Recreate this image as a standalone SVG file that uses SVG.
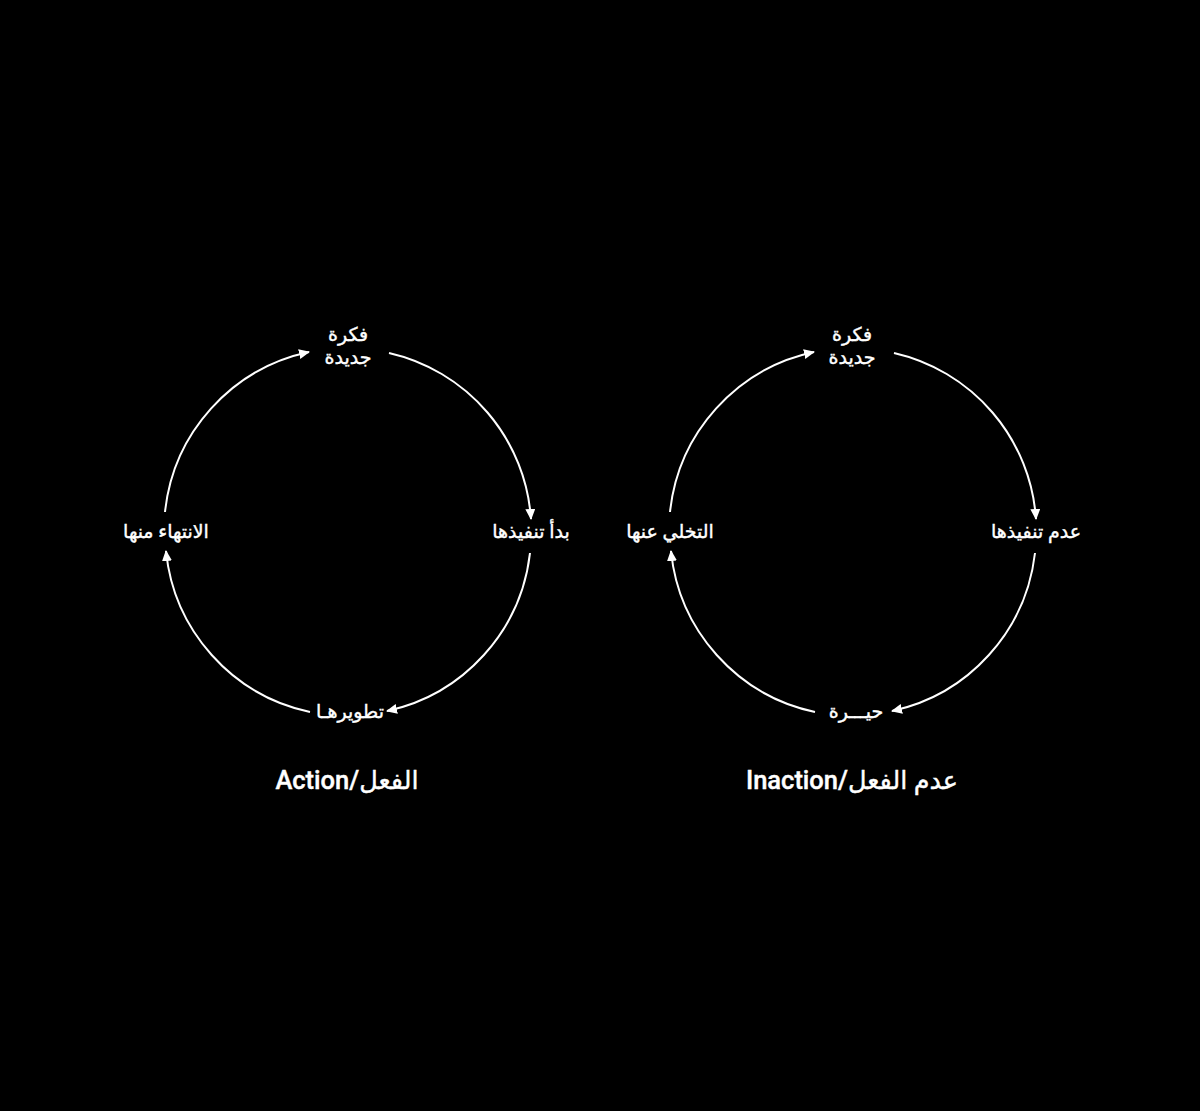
<svg xmlns="http://www.w3.org/2000/svg" width="1200" height="1111" viewBox="0 0 1200 1111">
<style>
.lbl{font-family:Roboto,"DejaVu Sans","Noto Sans",sans-serif;font-size:19px;font-weight:400;fill:#fff;stroke:#fff;stroke-width:0.4;text-anchor:middle}
.ttl{font-family:Roboto,"DejaVu Sans","Noto Sans",sans-serif;font-size:25.5px;font-weight:500;fill:#fff;stroke:#fff;stroke-width:0.4;text-anchor:middle}
.arc{fill:none;stroke:#fff;stroke-width:2}
</style>
<defs>
<marker id="ah" markerUnits="userSpaceOnUse" markerWidth="11" markerHeight="10" refX="10" refY="5" orient="auto">
<path d="M0,0 L11,5 L0,10 z" fill="#fff"/>
</marker>
</defs>
<rect width="1200" height="1111" fill="#000"/>
<g id="connectors">
<g id="left-arcs">
<path class="arc" marker-end="url(#ah)" d="M 389 353 A 183 183 0 0 1 531 519"/>
<path class="arc" marker-end="url(#ah)" d="M 530 553 A 183 183 0 0 1 387 711"/>
<path class="arc" marker-end="url(#ah)" d="M 310 712 A 183 183 0 0 1 166 551"/>
<path class="arc" marker-end="url(#ah)" d="M 165 512 A 183 183 0 0 1 309 352"/>
</g>
<g id="right-arcs" transform="translate(505,0)">
<path class="arc" marker-end="url(#ah)" d="M 389 353 A 183 183 0 0 1 531 519"/>
<path class="arc" marker-end="url(#ah)" d="M 530 553 A 183 183 0 0 1 387 711"/>
<path class="arc" marker-end="url(#ah)" d="M 310 712 A 183 183 0 0 1 166 551"/>
<path class="arc" marker-end="url(#ah)" d="M 165 512 A 183 183 0 0 1 309 352"/>
</g>
</g>
<g id="l-top"><text class="lbl" x="348" y="341">فكرة</text><text class="lbl" x="348" y="364">جديدة</text></g>
<g id="l-right"><text class="lbl" x="531" y="538">بدأ تنفيذها</text></g>
<g id="l-bottom"><text class="lbl" x="350" y="718">تطويرهـا</text></g>
<g id="l-left"><text class="lbl" x="166" y="538">الانتهاء منها</text></g>
<g id="l-title"><text class="ttl" x="347" y="789">Action/الفعل</text></g>
<g id="r-top"><text class="lbl" x="852" y="341">فكرة</text><text class="lbl" x="852" y="364">جديدة</text></g>
<g id="r-right"><text class="lbl" x="1036" y="538">عدم تنفيذها</text></g>
<g id="r-bottom"><text class="lbl" x="856" y="718">حيـــرة</text></g>
<g id="r-left"><text class="lbl" x="670" y="538">التخلي عنها</text></g>
<g id="r-title"><text class="ttl" x="852" y="789">Inaction/عدم الفعل</text></g>
</svg>
